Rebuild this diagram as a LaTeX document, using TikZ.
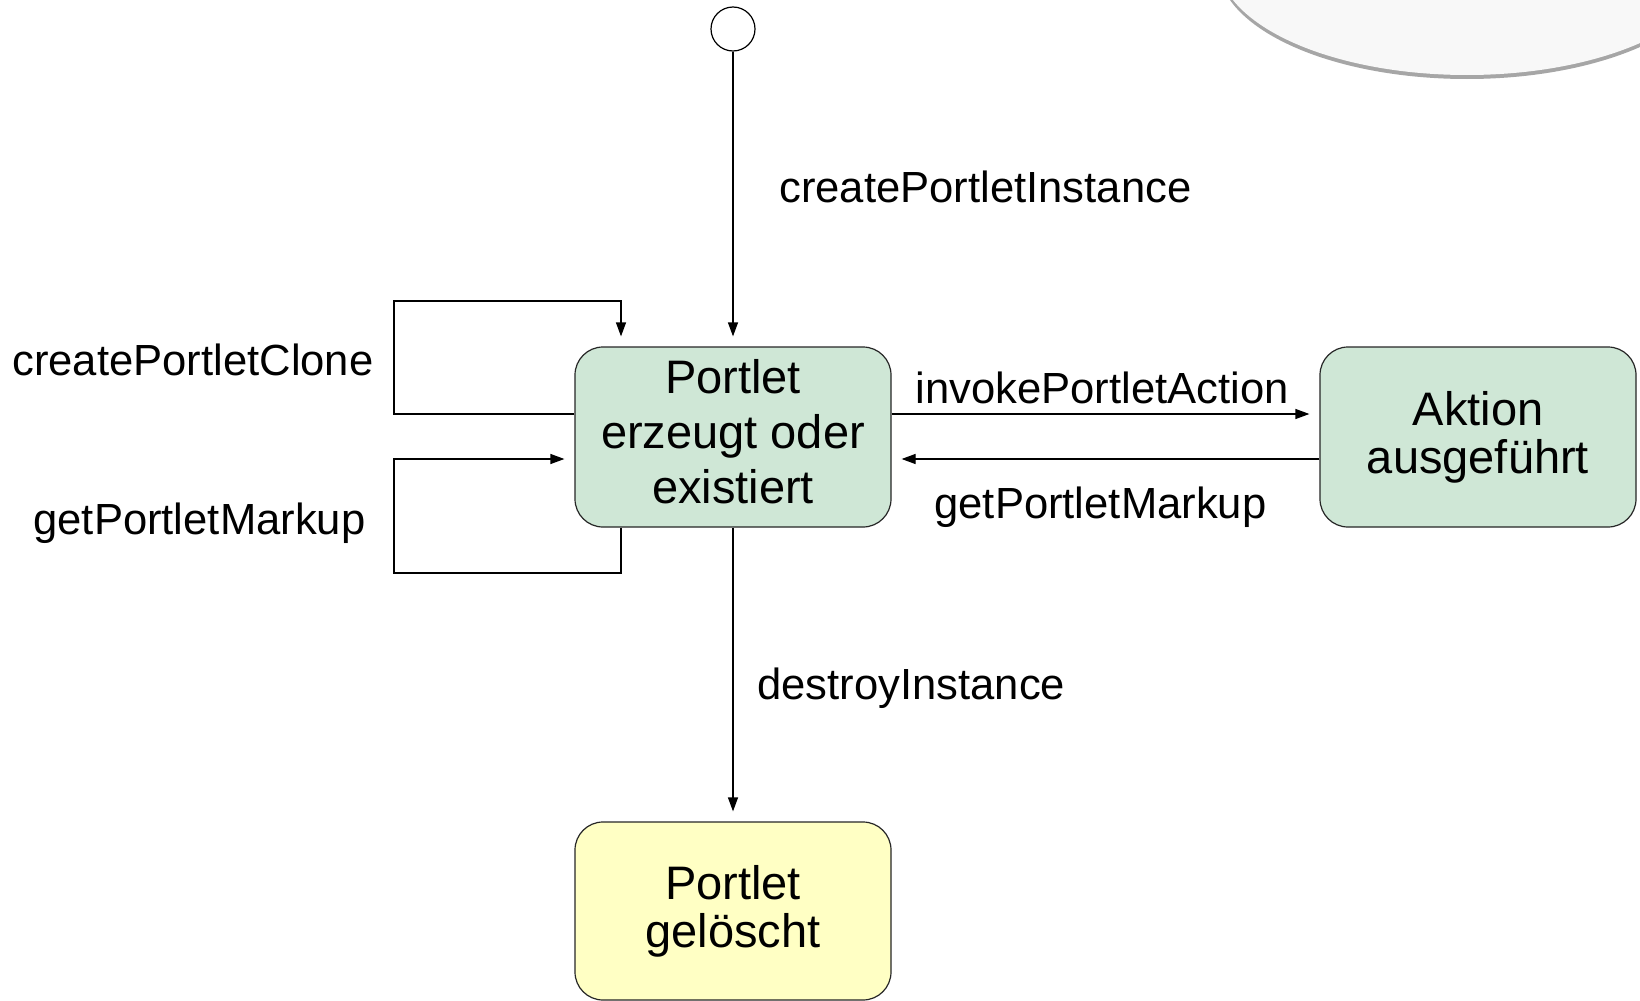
\documentclass[tikz,border=0pt]{standalone}
\usepackage{fontspec}
\setmainfont{Liberation Sans}
\usetikzlibrary{arrows.meta,calc}
\definecolor{stategreen}{RGB}{207,231,214}
\definecolor{stateyellow}{RGB}{255,255,196}
\definecolor{cloudgray}{RGB}{248,248,248}
\tikzset{
	portletstate/.style={draw=black!85, line width=0.6pt, rounded corners=14pt, minimum width=158pt, minimum height=90pt, inner sep=0pt, align=center, font=\fontsize{23.5}{24}\selectfont},
	translabel/.style={anchor=base west, inner sep=0pt, font=\fontsize{21.8}{26}\selectfont},
	trans/.style={-{Triangle[length=7pt,width=5pt]}, line width=0.6pt, shorten >=5pt},
}

\begin{document}
\begin{tikzpicture}[x=0.5pt, y=-0.5pt]
		%%%%% START %%%%%
		\useasboundingbox (0, 0) rectangle (1640, 1001);
		
		\begin{scope}
			\clip (0, 0) rectangle (1640, 1001);
			\fill[black!35] (1467, -35) ellipse [x radius=124.5pt, y radius=57pt];
			\fill[cloudgray] (1467, -39) ellipse [x radius=124.5pt, y radius=57pt];
		\end{scope}
		
		\node[circle, draw, line width=0.6pt, minimum size=22pt, inner sep=0pt] (start) at (733, 29) {};
		
		\node[portletstate, fill=stategreen, font=\fontsize{23.5}{27.5}\selectfont, text depth=5.5pt] (portlet) at (733, 437) {Portlet\\erzeugt oder\\existiert};
		\node[portletstate, fill=stategreen] (aktion) at (1478, 437) {Aktion\\ausgeführt};
		\node[portletstate, fill=stateyellow, minimum height=89pt] (geloescht) at (733, 911) {Portlet\\gelöscht};
		
		\coordinate (cloneturn) at (394, 301);
		\coordinate (markupturn) at (394, 573);
		
		\draw[trans] (start) -- (portlet);
		\draw[trans] ($(portlet.west)+(0, -23)$) -| (cloneturn) -| ($(portlet.north)+(-112, 0)$);
		\draw[trans] ($(portlet.south)+(-112, 0)$) |- (markupturn) |- ($(portlet.west)+(0, 22)$);
		\draw[trans] ($(portlet.east)+(0, -23)$) -- ($(aktion.west)+(0, -23)$);
		\draw[trans] ($(aktion.west)+(0, 22)$) -- ($(portlet.east)+(0, 22)$);
		\draw[trans] (portlet) -- (geloescht);
		
		\node[translabel] (lblinstance) at (779, 202) {createPortletInstance};
		\node[translabel] (lblclone) at (12, 375) {createPortletClone};
		\node[translabel] (lblmarkupleft) at (33, 534) {getPortletMarkup};
		\node[translabel] (lblaction) at (915, 403) {invokePortletAction};
		\node[translabel] (lblmarkupright) at (934, 518) {getPortletMarkup};
		\node[translabel] (lbldestroy) at (757, 699) {destroyInstance};
		%%%%% END %%%%%
\end{tikzpicture}
\end{document}
